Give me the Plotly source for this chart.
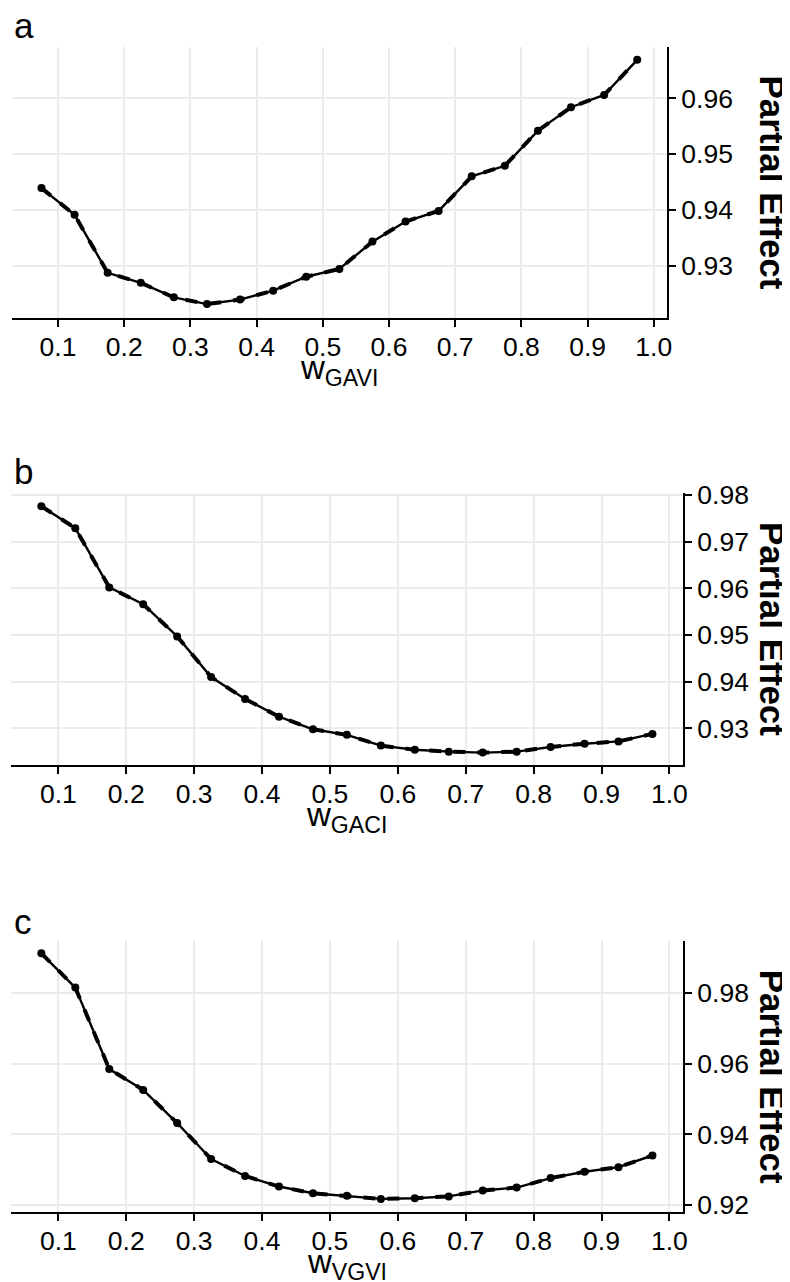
import plotly.graph_objects as go

# the page body adds an 8 px margin; lay out in reference pixels and shift by it
OFF = 8
W, H = 790 - OFF, 1282 - OFF

x_vals = [0.075, 0.125, 0.175, 0.225, 0.275, 0.325, 0.375, 0.425, 0.475, 0.525,
          0.575, 0.625, 0.675, 0.725, 0.775, 0.825, 0.875, 0.925, 0.975]

pe_gavi = [0.9439, 0.9391, 0.9287, 0.9269, 0.9243, 0.9231, 0.9239, 0.9255, 0.9280, 0.9294,
           0.9343, 0.9379, 0.9398, 0.9460, 0.9479, 0.9542, 0.9584, 0.9606, 0.9669]
pe_gaci = [0.9776, 0.9729, 0.9602, 0.9566, 0.9497, 0.9410, 0.9363, 0.9325, 0.9298, 0.9286,
           0.9263, 0.9254, 0.9250, 0.9248, 0.9250, 0.9260, 0.9267, 0.9272, 0.9288]
pe_vgvi = [0.9913, 0.9816, 0.9585, 0.9526, 0.9432, 0.9330, 0.9282, 0.9252, 0.9233, 0.9226,
           0.9217, 0.9219, 0.9224, 0.9241, 0.9249, 0.9276, 0.9294, 0.9307, 0.9340]

x_ticks = [0.1, 0.2, 0.3, 0.4, 0.5, 0.6, 0.7, 0.8, 0.9, 1.0]
y_ticks_a = [0.93, 0.94, 0.95, 0.96]
y_ticks_b = [0.93, 0.94, 0.95, 0.96, 0.97, 0.98]
y_ticks_c = [0.92, 0.94, 0.96, 0.98]

panel_labels = ["a", "b", "c"]
x_titles = ["w<sub>GAVI</sub>", "w<sub>GACI</sub>", "w<sub>VGVI</sub>"]
y_title = "Partial Effect"

series = [pe_gavi, pe_gaci, pe_vgvi]
yticks = [y_ticks_a, y_ticks_b, y_ticks_c]
yranges = [[0.9206, 0.9692], [0.92214, 0.98043], [0.9179, 0.9948]]

# reference-pixel geometry: (left, right, top, bottom)
boxes = [(11.7, 667, 47, 318), (10.8, 683, 493, 765), (10.8, 683, 941, 1212.3)]
label_y = [26, 472, 921]


def px(xr):
    return (xr - OFF) / W


def py(yr):
    return 1 - (yr - OFF) / H


FONT = "Liberation Sans, Arial, sans-serif"
TICK = 26.5

fig = go.Figure()
for i, ys in enumerate(series):
    sfx = "" if i == 0 else str(i + 1)
    fig.add_trace(go.Scatter(x=x_vals, y=ys, mode="lines",
                             line=dict(color="black", width=4, dash="dash"),
                             xaxis="x" + sfx, yaxis="y" + sfx, showlegend=False, hoverinfo="skip"))
    fig.add_trace(go.Scatter(x=x_vals, y=ys, mode="lines+markers",
                             line=dict(color="black", width=2.4),
                             marker=dict(color="black", size=8),
                             xaxis="x" + sfx, yaxis="y" + sfx, showlegend=False))

layout = dict(width=W, height=H, margin=dict(l=0, r=0, t=0, b=0),
              paper_bgcolor="white", plot_bgcolor="white",
              font=dict(family=FONT, color="black", size=TICK), annotations=[])

for i in range(3):
    sfx = "" if i == 0 else str(i + 1)
    l, r, t, b = boxes[i]
    layout["xaxis" + sfx] = dict(
        domain=[px(l), px(r)], anchor="y" + sfx, range=[0.03, 1.02],
        tickvals=x_ticks, tickformat=".1f", showgrid=True, gridcolor="#EBEBEB", gridwidth=1.6,
        showline=True, linecolor="black", linewidth=2, ticks="outside", ticklen=7, tickwidth=2,
        tickcolor="black", zeroline=False, tickfont=dict(size=TICK, color="black"),
        ticklabelstandoff=-3, automargin=False)
    layout["yaxis" + sfx] = dict(
        domain=[py(b), py(t)], anchor="x" + sfx, side="right", range=yranges[i],
        tickvals=yticks[i], tickformat=".2f", showgrid=True, gridcolor="#EBEBEB", gridwidth=1.6,
        showline=True, linecolor="black", linewidth=2, ticks="outside", ticklen=7, tickwidth=2,
        tickcolor="black", zeroline=False, tickfont=dict(size=TICK, color="black"), automargin=False)
    # panel label
    layout["annotations"].append(dict(
        text=panel_labels[i], xref="paper", yref="paper", x=px(12), y=py(label_y[i]),
        xanchor="left", yanchor="middle", showarrow=False, font=dict(size=35, color="black")))
    # x title
    layout["annotations"].append(dict(
        text=x_titles[i], xref="paper", yref="paper", x=px((l + r) / 2),
        y=py(b + 52), xanchor="center", yanchor="middle", showarrow=False,
        font=dict(size=33, color="black")))
    # y title
    layout["annotations"].append(dict(
        text="<b>" + y_title + "</b>", xref="paper", yref="paper", x=px(772),
        y=py((t + b) / 2), xanchor="center", yanchor="middle", textangle=90,
        showarrow=False, font=dict(size=35, color="black")))

fig.update_layout(**layout)
fig.write_html("out.html")
